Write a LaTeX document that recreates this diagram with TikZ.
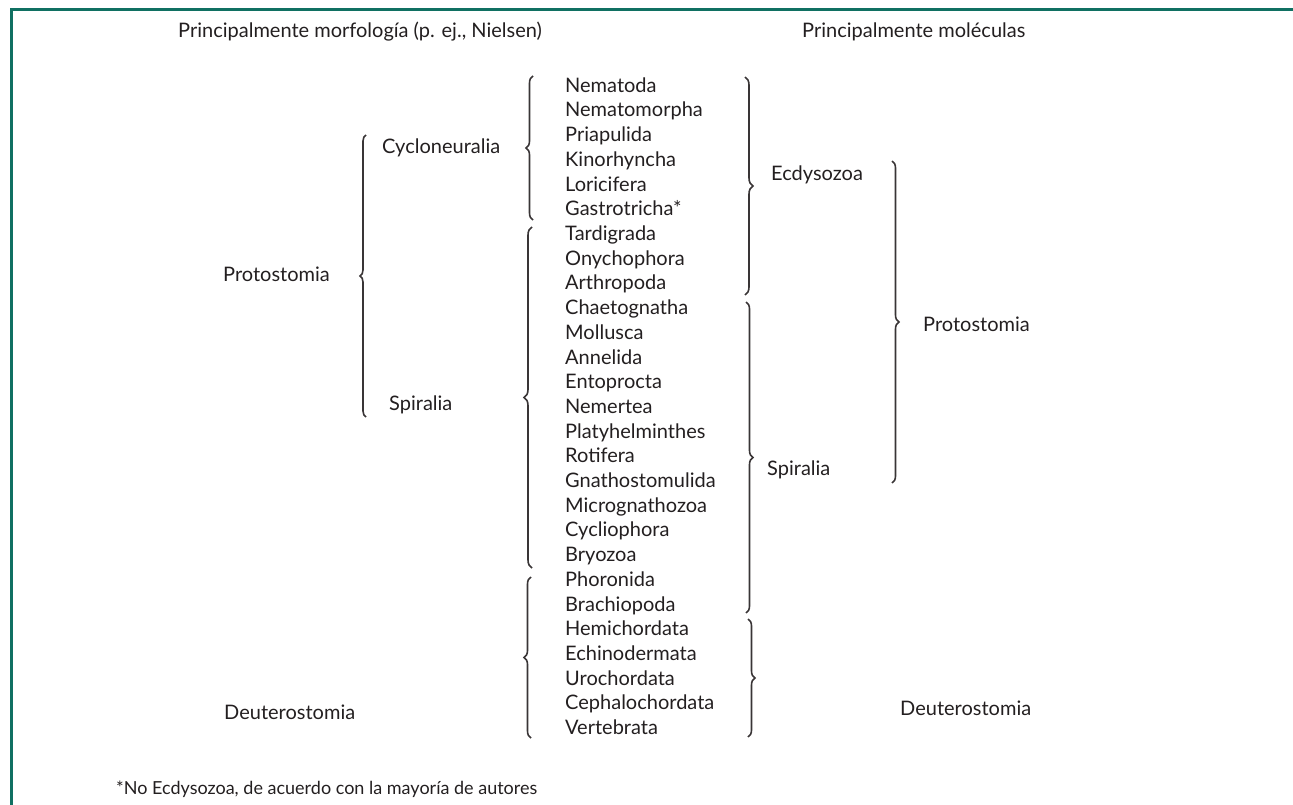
\documentclass[tikz,border=0pt]{standalone}
\usepackage{fontspec}
\setmainfont{Lato}
\usetikzlibrary{decorations.pathreplacing}
\definecolor{frame}{RGB}{16,112,98}
\definecolor{ink}{RGB}{35,31,32}
\begin{document}
\begin{tikzpicture}[x=1pt,y=-1pt,
  lbl/.style={anchor=base west, inner sep=0pt, font=\fontsize{20}{24}\selectfont, text=ink},
  note/.style={anchor=base west, inner sep=0pt, font=\fontsize{18}{21}\selectfont, text=ink},
  brc/.style={draw=ink!90, line width=1.6pt, decorate, decoration={brace, amplitude=#1pt}},
  ]
\useasboundingbox (0,0) rectangle (1293,805);
\draw[frame, line width=3pt] (11,805) -- (11,10) -- (1293,10);

% headers
\node[lbl] (hl) at (178,38) {Principalmente morfología (p. ej., Nielsen)};
\node[lbl] (hr) at (802,38) {Principalmente moléculas};

% list
\foreach \t [count=\i from 0] in {Nematoda,Nematomorpha,Priapulida,Kinorhyncha,Loricifera,Gastrotricha*,Tardigrada,Onychophora,Arthropoda,Chaetognatha,Mollusca,Annelida,Entoprocta,Nemertea,Platyhelminthes,Rotifera,Gnathostomulida,Micrognathozoa,Cycliophora,Bryozoa,Phoronida,Brachiopoda,Hemichordata,Echinodermata,Urochordata,Cephalochordata,Vertebrata}
  \node[lbl] (l\i) at (565,{92.3+24.7*\i}) {\t};

% left group labels
\node[lbl] (protoL) at (223,281) {Protostomia};
\node[lbl] (cyclo) at (382,154) {Cycloneuralia};
\node[lbl] (spirL) at (389,410) {Spiralia};
\node[lbl] (deutL) at (224,719) {Deuterostomia};

% right group labels
\node[lbl] (ecdy) at (771,181) {Ecdysozoa};
\node[lbl] (spirR) at (767,475) {Spiralia};
\node[lbl] (protoR) at (923,331) {Protostomia};
\node[lbl] (deutR) at (900,715) {Deuterostomia};

% footnote
\node[note] (fn) at (116,794) {*No Ecdysozoa, de acuerdo con la mayoría de autores};

% brace coordinates
\coordinate (bPLt) at (366,135); \coordinate (bPLb) at (366,417);
\coordinate (bCYt) at (533,76);  \coordinate (bCYb) at (533,220);
\coordinate (bSLt) at (532,227); \coordinate (bSLb) at (532,568);
\coordinate (bDLt) at (531,577); \coordinate (bDLb) at (531,738);
\coordinate (bECt) at (745,77);  \coordinate (bECb) at (745,295);
\coordinate (bSRt) at (746,302); \coordinate (bSRb) at (746,613);
\coordinate (bDRt) at (748,619); \coordinate (bDRb) at (748,737);
\coordinate (bPRt) at (892,161); \coordinate (bPRb) at (892,483);

% left-pointing braces (drawn bottom to top)
\draw[brc=6] (bPLb) -- (bPLt);
\draw[brc=7] (bCYb) -- (bCYt);
\draw[brc=8] (bSLb) -- (bSLt);
\draw[brc=7] (bDLb) -- (bDLt);
% right-pointing braces (drawn top to bottom)
\draw[brc=8] (bECt) -- (bECb);
\draw[brc=7] (bSRt) -- (bSRb);
\draw[brc=7] (bDRt) -- (bDRb);
\draw[brc=7] (bPRt) -- (bPRb);
\end{tikzpicture}
\end{document}
